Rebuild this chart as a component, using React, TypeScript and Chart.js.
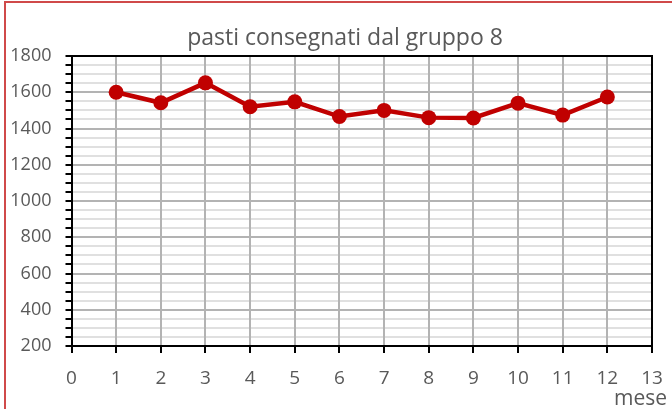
import React, { useEffect, useRef } from "react";
import { Chart, registerables } from "chart.js";

Chart.register(...registerables);

const chartTitle = "pasti consegnati dal gruppo 8";
const xAxisLabel = "mese";
const months = [1, 2, 3, 4, 5, 6, 7, 8, 9, 10, 11, 12];
const meals = [1600, 1542, 1652, 1520, 1547, 1466, 1500, 1460, 1458, 1540, 1474, 1574];
const xMin = 0;
const xMax = 13;
const yMin = 200;
const yMax = 1800;
const yMajorStep = 200;
const yMinorStep = 50;

const FONT = "'Open Sans', sans-serif";
const TEXT = "#595959";

const frame = {
  id: "frame",
  afterDatasetsDraw(chart: any) {
    const { ctx, chartArea } = chart;
    ctx.save();
    ctx.strokeStyle = "#000";
    ctx.lineWidth = 2;
    ctx.beginPath();
    ctx.moveTo(chartArea.left, chartArea.top);
    ctx.lineTo(chartArea.right, chartArea.top);
    ctx.lineTo(chartArea.right, chartArea.bottom);
    ctx.stroke();
    ctx.restore();
  },
  afterDraw(chart: any) {
    const { ctx } = chart;
    ctx.save();
    ctx.fillStyle = TEXT;
    ctx.textBaseline = "alphabetic";
    ctx.font = `23px ${FONT}`;
    ctx.textAlign = "center";
    ctx.fillText(chartTitle, 345, 45);
    ctx.font = `21px ${FONT}`;
    ctx.textAlign = "right";
    ctx.fillText(xAxisLabel, 667, 405);
    ctx.restore();
  },
};

export default function App() {
  const ref = useRef<HTMLCanvasElement | null>(null);
  useEffect(() => {
    if (!ref.current) return;
    const chart = new Chart(ref.current, {
      type: "scatter",
      data: {
        datasets: [
          {
            data: months.map((m, i) => ({ x: m, y: meals[i] })),
            showLine: true,
            borderColor: "#c00000",
            backgroundColor: "#c00000",
            borderWidth: 4.5,
            pointRadius: 7.5,
            pointHoverRadius: 7.5,
            pointBorderWidth: 0,
            pointBackgroundColor: "#c00000",
          },
        ],
      },
      options: {
        animation: false,
        responsive: false,
        maintainAspectRatio: false,
        layout: { padding: { left: 0, right: 20, top: 56, bottom: 0 } },
        plugins: {
          legend: { display: false },
          tooltip: { enabled: false },
          title: { display: false },
        },
        scales: {
          x: {
            type: "linear",
            min: xMin,
            max: xMax,
            afterFit: (s: any) => {
              s.height = 63;
              s.paddingLeft = 0;
              s.paddingRight = 0;
            },
            ticks: {
              stepSize: 1,
              autoSkip: false,
              maxRotation: 0,
              color: TEXT,
              padding: 14,
              font: { family: FONT, size: 19 },
            },
            grid: {
              z: -1,
              color: "#b3b3b3",
              lineWidth: 2,
              tickColor: "#000",
              tickLength: 7,
              tickWidth: 2,
            },
            border: { display: true, color: "#000", width: 2, z: 0 },
          },
          y: {
            type: "linear",
            min: yMin,
            max: yMax,
            afterFit: (s: any) => {
              s.width = 71.5;
            },
            ticks: {
              stepSize: yMinorStep,
              autoSkip: false,
              color: TEXT,
              padding: 14,
              font: { family: FONT, size: 18 },
              callback: (v: any) => (Number(v) % yMajorStep === 0 ? String(v) : ""),
            },
            grid: {
              z: -2,
              color: (c: any) =>
                c.tick && c.tick.value % yMajorStep === 0 ? "#b3b3b3" : "#e0e0e0",
              lineWidth: 2,
              tickColor: "#000",
              tickLength: 6,
              tickWidth: 2,
            },
            border: { display: true, color: "#000", width: 2, z: 0 },
          },
        },
      },
      plugins: [frame],
    });
    return () => chart.destroy();
  }, []);

  return (
    <div
      style={{
        position: "fixed",
        left: 0,
        top: 0,
        width: 672,
        height: 409,
        background: "#fff",
        overflow: "hidden",
      }}
    >
      <div
        style={{
          position: "absolute",
          left: 4,
          top: 1,
          width: 800,
          height: 600,
          borderLeft: "2px solid #d04a4a",
          borderTop: "2px solid #d04a4a",
        }}
      />
      <canvas
        ref={ref}
        width={672}
        height={409}
        style={{ position: "absolute", left: 0, top: 0, width: 672, height: 409 }}
      />
    </div>
  );
}
